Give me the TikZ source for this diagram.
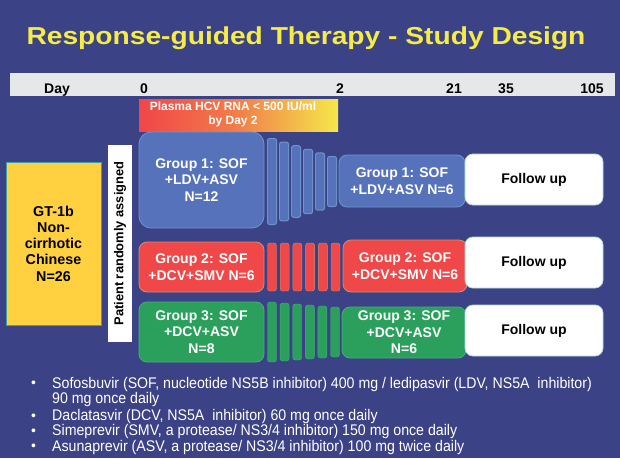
\documentclass[tikz,border=0pt]{standalone}
\usepackage{fontspec}
\setmainfont{Liberation Sans}
\newfontfamily\notesfont[FakeStretch=0.92]{Liberation Sans}
\usetikzlibrary{positioning}

\definecolor{slidebg}{RGB}{60,66,134}
\definecolor{titleyellow}{RGB}{245,236,72}
\definecolor{daygray}{RGB}{230,231,232}
\definecolor{grpblue}{RGB}{86,114,186}
\definecolor{grpblueline}{RGB}{110,150,205}
\definecolor{grpred}{RGB}{240,72,72}
\definecolor{grpredline}{RGB}{200,145,115}
\definecolor{grpgreen}{RGB}{42,160,92}
\definecolor{grpgreenline}{RGB}{70,175,120}
\definecolor{gtyellow}{RGB}{255,208,64}
\definecolor{gtline}{RGB}{60,160,170}
\definecolor{rnared}{RGB}{240,70,72}
\definecolor{rnayellow}{RGB}{245,232,75}

\tikzstyle{daylabel}=[font=\bfseries\fontsize{14}{16}\selectfont, text=black, anchor=base, inner sep=0pt]
\tikzstyle{group}=[rounded corners=8pt, thick, text=white, align=center, font=\bfseries\fontsize{14}{16.5}\selectfont, inner sep=0pt]
\tikzstyle{followup}=[group, draw=gtline!40, fill=white, text=black, minimum width=138pt, minimum height=51pt]
\tikzstyle{bullet}=[font=\notesfont\fontsize{15.4}{17}\selectfont, text=white, anchor=base west, inner sep=0pt]

\begin{document}
\begin{tikzpicture}[x=1pt, y=-1pt]
    \useasboundingbox (0,0) rectangle (620,458);
    \fill[slidebg] (0,0) rectangle (620,458);

    % title
    \node[text=titleyellow, anchor=base, inner sep=0pt, font=\bfseries\fontsize{24.5}{28}\selectfont] (title) at (306,44.3) {\scalebox{1.15}[1]{Response-guided Therapy - Study Design}};

    % day axis
    \node[fill=daygray, minimum width=605pt, minimum height=23pt, inner sep=0pt] (axis) at (312.5,84.5) {};
    \node[daylabel] (day) at (57,93) {Day};
    \node[daylabel] (d0) at (144,93) {0};
    \node[daylabel] (d2) at (340,93) {2};
    \node[daylabel] (d21) at (454,93) {21};
    \node[daylabel] (d35) at (506,93) {35};
    \node[daylabel] (d105) at (592,93) {105};

    % response window
    \node[left color=rnared, right color=rnayellow, middle color=rnared!65!rnayellow, minimum width=199pt, minimum height=32pt, inner sep=0pt] (rna) at (238.5,115) {};
    \node[text=white, align=center, inner sep=0pt, font=\bfseries\fontsize{12}{14.3}\selectfont] (rnatext) at (233,114.5) {Plasma HCV RNA < 500 IU/ml\\by Day 2};

    % population
    \node[fill=gtyellow, draw=gtline, minimum width=95pt, minimum height=163pt, align=center, inner sep=0pt, font=\bfseries\fontsize{14.3}{16.3}\selectfont] (pop) at (53.5,243.5) {GT-1b\\Non-\\cirrhotic\\Chinese\\N=26};
    \node[fill=white, rotate=90, minimum width=197pt, minimum height=24pt, inner sep=0pt, font=\bfseries\fontsize{12.9}{14}\selectfont] (rand) at (120,243.5) {Patient randomly assigned};

    % group 1
    \node[group, fill=grpblue, draw=grpblueline, rounded corners=12pt, minimum width=125pt, minimum height=96pt] (g1a) at (201.5,180) {Group 1: SOF\\+LDV+ASV\\N=12};
    \foreach \i in {0,...,5}
        \fill[grpblueline, rounded corners=2.5pt] (267+12*\i,181.5-43.5+3.6*\i) rectangle ++(10,87-7.2*\i);
    \foreach \i in {0,...,5}
        \fill[grpblue, rounded corners=2pt] (268+12*\i,182.5-43.5+3.6*\i) rectangle ++(8,85-7.2*\i);
    \node[group, fill=grpblue, draw=grpblueline, minimum width=126pt, minimum height=52pt] (g1b) at (402,181) {Group 1: SOF\\+LDV+ASV N=6};
    \node[followup] (f1) at (534,179.5) {Follow up};

    % group 2
    \node[group, fill=grpred, draw=grpredline, minimum width=125pt, minimum height=50pt] (g2a) at (201.5,267) {Group 2: SOF\\+DCV+SMV N=6};
    \foreach \i in {0,...,5}
        \filldraw[fill=grpred, draw=grpredline, rounded corners=2.5pt] (267.5+12.7*\i,243) rectangle ++(9,48);
    \node[group, fill=grpred, draw=grpredline, minimum width=124pt, minimum height=52pt] (g2b) at (405,266) {Group 2: SOF\\+DCV+SMV N=6};
    \node[followup] (f2) at (534,262.5) {Follow up};

    % group 3
    \node[group, fill=grpgreen, draw=grpgreenline, minimum width=125pt, minimum height=60pt] (g3a) at (201.5,332) {Group 3: SOF\\+DCV+ASV\\N=8};
    \foreach \i in {0,...,5}
        \filldraw[fill=grpgreen, draw=grpgreenline, rounded corners=2.5pt] (267.5+12.6*\i,302+1*\i) rectangle ++(9,60-2*\i);
    \node[group, fill=grpgreen, draw=grpgreenline, minimum width=124pt, minimum height=51pt] (g3b) at (404,332.5) {Group 3: SOF\\+DCV+ASV\\N=6};
    \node[followup] (f3) at (534,330.5) {Follow up};

    % drug notes
    \foreach \y/\txt in {388/{Sofosbuvir (SOF, nucleotide NS5B inhibitor) 400 mg / ledipasvir (LDV, NS5A\ \ inhibitor)},
                        420.5/{Daclatasvir (DCV, NS5A\ \ inhibitor) 60 mg once daily},
                        435.5/{Simeprevir (SMV, a protease/ NS3/4 inhibitor) 150 mg once daily},
                        451/{Asunaprevir (ASV, a protease/ NS3/4 inhibitor) 100 mg twice daily}} {
        \node[bullet, font=\fontsize{14}{16}\selectfont] (dot\y) at (31,\y-0.5) {\textbullet};
        \node[bullet] (b\y) at (52,\y) {\txt};
    }
    \node[bullet] (note) at (52,403.5) {90 mg once daily};
\end{tikzpicture}
\end{document}
